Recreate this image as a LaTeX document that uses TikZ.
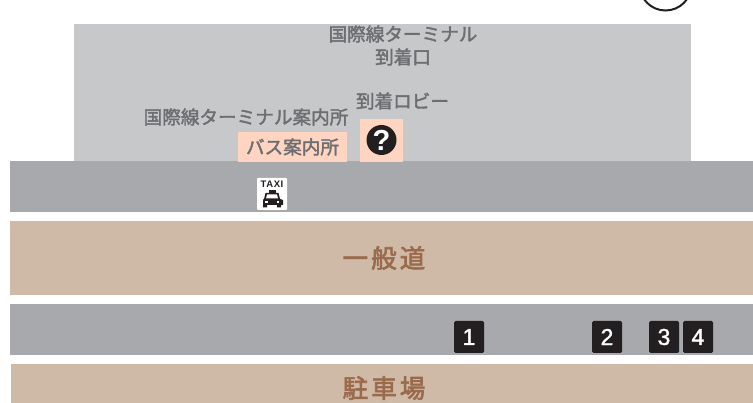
\documentclass[tikz,border=0pt]{standalone}
\usepackage{fontspec}
\setmainfont{Liberation Sans}
\newfontfamily\cjk[FakeBold=2]{Noto Sans CJK JP}
\newfontfamily\cjkbig[FakeBold=2.5,LetterSpace=12]{Noto Sans CJK JP}
\newfontfamily\numfont[FakeBold=1.5]{Liberation Sans}
\newfontfamily\taxifont[LetterSpace=6]{Liberation Sans}
\definecolor{termgray}{HTML}{C7C8CA}
\definecolor{roadgray}{HTML}{A7A9AC}
\definecolor{tan}{HTML}{CFB9A7}
\definecolor{peach}{HTML}{FFD5C2}
\definecolor{labelgray}{HTML}{6D6E71}
\definecolor{tanlabel}{HTML}{9A6A4C}
\definecolor{ink}{HTML}{231F20}
\tikzset{
  x=1pt,y=-1pt,
  lbl/.style={font=\cjk\fontsize{18.6}{23}\selectfont,text=labelgray,inner sep=0pt,align=center},
  biglbl/.style={font=\cjkbig\fontsize{25.5}{28}\selectfont,text=tanlabel,inner sep=0pt},
  numbox/.style={fill=ink,rounded corners=1.5pt,minimum width=30pt,minimum height=32pt,inner sep=0pt,text=white,font=\numfont\fontsize{23}{24}\selectfont},
}
\begin{document}
\begin{tikzpicture}
\useasboundingbox (0,0) rectangle (753,403);
\fill[white] (0,0) rectangle (753,403);
\draw[ink,line width=2pt] (665.5,-15.5) circle (26);
\fill[termgray] (74,24) rectangle (691,162);
\fill[roadgray] (10,161) rectangle (753,212);
\fill[tan] (10,221) rectangle (753,295);
\fill[roadgray] (10,304) rectangle (753,355);
\fill[tan] (11,364) rectangle (753,403);
\fill[peach] (238,132) rectangle (347,162);
\fill[peach] (360,119) rectangle (403,162);
\node[lbl] (arr) at (403,45.5) {国際線ターミナル\\到着口};
\node[lbl] (lobby) at (402.5,101) {到着ロビー};
\node[lbl] (info) at (246,117) {国際線ターミナル案内所};
\node[lbl] (bus) at (292.5,147) {バス案内所};
\node[circle,fill=ink,minimum size=30pt,inner sep=0pt,text=white,font=\bfseries\fontsize{29}{29}\selectfont] (q) at (381.5,140) {?};
\node[fill=white,rounded corners=1pt,minimum width=30pt,minimum height=32pt,inner sep=0pt] (taxi) at (272,194) {};
\node[font=\taxifont\bfseries\fontsize{9.5}{10}\selectfont,text=ink,inner sep=0pt] (taxit) at (272,184) {TAXI};
% car
\fill[ink] (269,190) rectangle (275.5,193.5);
\fill[ink] (265.5,193) -- (278.5,193) -- (280,199) -- (283,200) -- (283,205) -- (281,205) -- (281,207.5) -- (277,207.5) -- (277,205) -- (267,205) -- (267,207.5) -- (263,207.5) -- (263,205) -- (263,200) -- (264,199) -- cycle;
\fill[white] (267,194.5) -- (277,194.5) -- (278,198.5) -- (266,198.5) -- cycle;
\fill[white] (265,201) rectangle (267.5,203);
\fill[white] (276.5,201) rectangle (279,203);
\node[biglbl] (road) at (384,258) {一般道};
\node[biglbl] (park) at (384,388) {駐車場};
\node[numbox] (n1) at (469,337) {1};
\node[numbox] (n2) at (607,337) {2};
\node[numbox] (n3) at (664,337) {3};
\node[numbox] (n4) at (698,337) {4};
\end{tikzpicture}
\end{document}
